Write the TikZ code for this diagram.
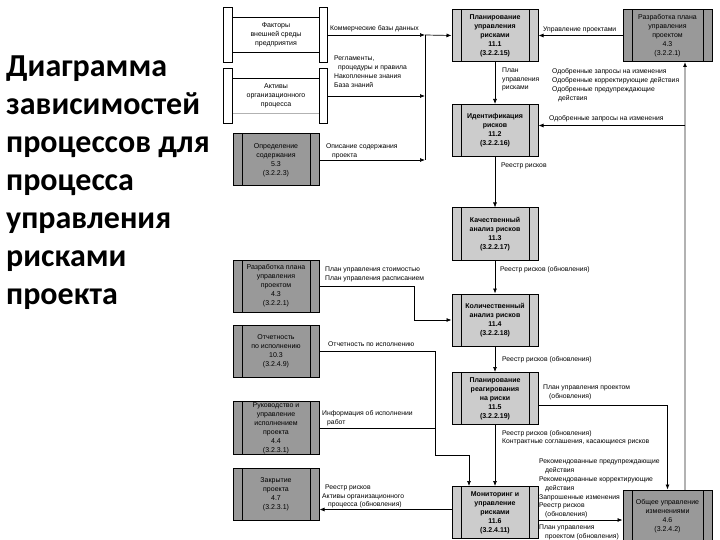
\documentclass[tikz,border=0pt]{standalone}
\usepackage{fontspec}
\setmainfont{Liberation Sans}
\newfontfamily\titlefont{Carlito}
\usepackage{xcolor}
\usepackage{tikz}
\usetikzlibrary{calc,positioning,arrows.meta}
\definecolor{procfill}{RGB}{153,153,153}
\definecolor{riskfill}{RGB}{204,204,204}
\definecolor{feedgray}{RGB}{178,178,178}
\tikzset{
  pbox/.style={draw, line width=1pt, fill=procfill,
               minimum width=86pt, minimum height=52pt, inner sep=1pt,
               align=center, font=\fontsize{7}{9}\selectfont,
               path picture={
                 \draw[line width=0.8pt] ([xshift=9pt]path picture bounding box.north west)
                   -- ([xshift=9pt]path picture bounding box.south west);
                 \draw[line width=0.8pt] ([xshift=-9pt]path picture bounding box.north east)
                   -- ([xshift=-9pt]path picture bounding box.south east);}},
  pbox risk/.style={pbox, fill=riskfill, font=\fontsize{7}{9}\selectfont\bfseries},
  pbox wide/.style={pbox, minimum width=89pt},
  envbox/.style={minimum width=86pt, minimum height=34pt, inner sep=1pt,
                 align=center, font=\fontsize{7}{9}\selectfont},
  flow/.style={line width=0.7pt, -{Latex[length=5pt,width=4pt]}},
  lbl/.style={anchor=north west, inner sep=0pt, align=left,
              font=\fontsize{6.8}{8.8}\selectfont},
}

\begin{document}
\begin{tikzpicture}[x=1pt, y=-1pt]
\useasboundingbox (0,0) rectangle (720,540);
\node[anchor=north west, align=left, inner sep=0pt,
      font=\titlefont\bfseries\fontsize{32}{38}\selectfont] (title) at (6,56)
  {Диаграмма\\зависимостей\\процессов для\\процесса\\управления\\рисками\\проекта};

% environment inputs: open boxes between two end bars
\foreach \name/\y/\bot/\txt in {%
  env1/35/black/{Факторы\\внешней среды\\предприятия},
  env2/96/feedgray/{Активы\\организационного\\процесса}%
}{
  \node[envbox] (\name) at (276,\y) {\txt};
  \draw[line width=0.8pt] (\name.north west) -- (\name.north east);
  \draw[line width=0.8pt, \bot] (\name.south west) -- (\name.south east);
  \draw[line width=0.8pt, fill=white] ([yshift=10pt]\name.north west)
    rectangle ([xshift=-9pt,yshift=-10pt]\name.south west);
  \draw[line width=0.8pt, fill=white] ([yshift=10pt]\name.north east)
    rectangle ([xshift=8pt,yshift=-10pt]\name.south east);
}
% other knowledge-area processes (left column)
\foreach \name/\y/\txt in {%
  scope/160/{Определение\\содержания\\5.3\\(3.2.2.3)},
  pmplan/286/{Разработка плана\\управления\\проектом\\4.3\\(3.2.2.1)},
  perf/351/{Отчетность\\по исполнению\\10.3\\(3.2.4.9)},
  exec/428/{Руководство и\\управление\\исполнением\\проекта\\4.4\\(3.2.3.1)},
  close/494.5/{Закрытие\\проекта\\4.7\\(3.2.3.1)}%
}
  \node[pbox] (\name) at (276,\y) {\txt};
% risk management processes 11.1 .. 11.6
\foreach \name/\y/\txt in {%
  riskA/35.5/{Планирование\\управления\\рисками\\11.1\\(3.2.2.15)},
  riskB/130.5/{Идентификация\\рисков\\11.2\\(3.2.2.16)},
  riskC/234/{Качественный\\анализ рисков\\11.3\\(3.2.2.17)},
  riskD/320/{Количественный\\анализ рисков\\11.4\\(3.2.2.18)},
  riskE/398.5/{Планирование\\реагирования\\на риски\\11.5\\(3.2.2.19)},
  riskF/512.5/{Мониторинг и\\управление\\рисками\\11.6\\(3.2.4.11)}%
}
  \node[pbox risk] (\name) at (495,\y) {\txt};
\node[pbox wide] (pmG) at (667.5,35.5) {Разработка плана\\управления\\проектом\\4.3\\(3.2.2.1)};
\node[pbox wide] (chgH) at (667.5,516) {Общее управление\\изменениями\\4.6\\(3.2.4.2)};

% inputs gathered on a bus into 11.1
\coordinate (bus) at (425,0);
\draw[flow] ([xshift=8pt]env1.east) -- (env1.east -| bus);
\draw[flow] ([xshift=8pt]env2.east) -- (env2.east -| bus);
\draw[flow] (scope.east) -- (scope.east -| bus);
\draw[line width=0.7pt] (env1.east -| bus) -- (scope.east -| bus);
\draw[flow] (env1.east -| bus) -- (riskA.west);
\draw[flow] (pmG.west) -- (riskA.east);
% main chain
\draw[flow] (riskA.south) -- (riskB.north);
\draw[flow] (riskB.south) -- (riskC.north);
\draw[flow] (riskC.south) -- (riskD.north);
\draw[flow] (riskD.south) -- (riskE.north);
\draw[flow] (riskE.south) -- (riskF.north);
% feedback from change control
\coordinate (fb) at (685,0);
\coordinate (bIn) at ([yshift=5pt]riskB.east);
\draw[line width=1.5pt, feedgray, -{Latex[length=5pt,width=4pt,color=black]}]
  (chgH.north -| fb) -- (pmG.south -| fb);
\draw[flow] (bIn -| fb) -- (bIn);
% side inputs
\draw[flow] (pmplan.east) -- ++(95,0) |- (riskD.west);
\coordinate (rj) at (435,455);
\draw[flow] (perf.east) -| (rj) -| ([xshift=-26pt]riskF.north);
\draw[line width=0.7pt] (exec.east) -- (exec.east -| rj);
% outputs
\coordinate (eH) at ([yshift=-6.5pt]riskE.east);
\draw[flow] (eH) -| (chgH.north);
\coordinate (fH) at ([yshift=-7.5pt]riskF.east);
\draw[flow] (fH) -- (fH -| chgH.west);
\coordinate (fOut) at ([yshift=3pt]riskF.west);
\draw[flow] (fOut) -- (fOut -| close.east);

% connector labels
\node[lbl] (l1) at (330,25.5) {Коммерческие базы данных};
\node[lbl] (l2) at (334,56) {Регламенты,\\\hspace*{4pt}процедуры и правила\\Накопленные знания\\База знаний};
\node[lbl] (l3) at (326,143.5) {Описание содержания\\\hspace*{6pt}проекта};
\node[lbl] (l4) at (502,67.5) {План\\управления\\рисками};
\node[lbl] (l5) at (543,26.5) {Управление проектами};
\node[lbl] (l6) at (552,68.5) {Одобренные запросы на изменения\\Одобренные корректирующие действия\\Одобренные предупреждающие\\\hspace*{6pt}действия};
\node[lbl] (l7) at (549,115.5) {Одобренные запросы на изменения};
\node[lbl] (l8) at (501,162.5) {Реестр рисков};
\node[lbl] (l9) at (500,266.5) {Реестр рисков (обновления)};
\node[lbl] (l10) at (325,266.5) {План управления стоимостью\\План управления расписанием};
\node[lbl] (l11) at (328,341.5) {Отчетность по исполнению};
\node[lbl] (l12) at (502,356) {Реестр рисков (обновления)};
\node[lbl] (l13) at (322,410.5) {Информация об исполнении\\\hspace*{5pt}работ};
\node[lbl] (l14) at (543,385) {План управления проектом\\\hspace*{6pt}(обновления)};
\node[lbl] (l15) at (502,430) {Реестр рисков (обновления)\\Контрактные соглашения, касающиеся рисков};
\node[lbl] (l16) at (539,459) {Рекомендованные предупреждающие\\\hspace*{6pt}действия\\Рекомендованные корректирующие\\\hspace*{6pt}действия\\Запрошенные изменения\\Реестр рисков\\\hspace*{6pt}(обновления)};
\node[lbl] (l17) at (539,524.5) {План управления\\\hspace*{6pt}проектом (обновления)};
\node[lbl] (l18) at (322,484.5) {\hspace*{3pt}Реестр рисков\\Активы организационного\\\hspace*{6pt}процесса (обновления)};
\end{tikzpicture}
\end{document}
